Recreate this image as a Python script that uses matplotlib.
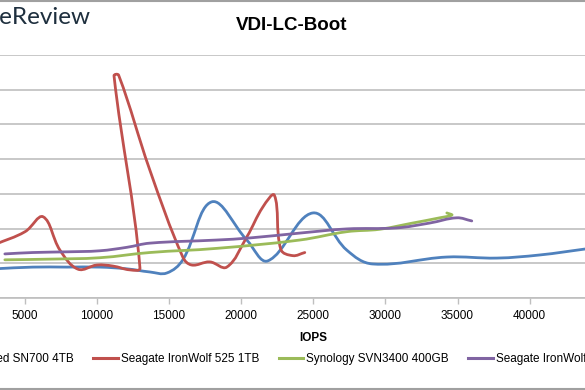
import numpy as np
import matplotlib.pyplot as plt
from matplotlib.path import Path
from matplotlib.patches import PathPatch
from matplotlib.lines import Line2D

plt.rcParams['font.family'] = ['Liberation Sans', 'DejaVu Sans']

# series (IOPS, latency in grid units)
names = ['WD Red SN700 4TB', 'Seagate IronWolf 525 1TB',
         'Synology SVN3400 400GB', 'Seagate IronWolf']
colors = ['#4F81BD', '#C0504D', '#9BBB59', '#8064A2']

wd_iops = [2900, 5550, 7900, 10200, 12070, 13660, 14840, 15950, 17960, 20390,
           21850, 24970, 27320, 29130, 34260, 37730, 40710, 43830, 44870]
wd_lat = [0.84, 0.89, 0.89, 0.89, 0.84, 0.75, 0.72, 1.10, 2.77, 1.67,
          1.07, 2.45, 1.38, 0.98, 1.18, 1.15, 1.24, 1.41, 1.47]

iw525_iops = [2910, 5010, 6260, 7430, 8680, 10000, 11110, 12290, 12980, 11180,
              11500, 13660, 15950, 16570, 17820, 19000, 20390, 21500, 22300,
              22750, 23580, 24410]
iw525_lat = [1.54, 1.91, 2.34, 1.38, 0.83, 0.95, 0.92, 0.81, 0.86, 6.40,
             6.42, 3.69, 1.18, 0.95, 1.04, 0.89, 1.76, 2.62, 2.96,
             1.40, 1.22, 1.31]

syn_iops = [3610, 6740, 10190, 13660, 18310, 24060, 27320, 29610, 31900,
            33770, 34610, 34260]
syn_lat = [1.10, 1.12, 1.16, 1.31, 1.43, 1.67, 1.91, 1.98, 2.16,
           2.31, 2.39, 2.45]

iw_iops = [3610, 5550, 7900, 10190, 12070, 13660, 18310, 20600, 24060,
           27320, 30790, 33080, 34950, 35990]
iw_lat = [1.27, 1.31, 1.33, 1.36, 1.46, 1.58, 1.67, 1.73, 1.87,
          1.99, 2.02, 2.16, 2.31, 2.22]

series = [(wd_iops, wd_lat), (iw525_iops, iw525_lat),
          (syn_iops, syn_lat), (iw_iops, iw_lat)]

x_ticks = [5000, 10000, 15000, 20000, 25000, 30000, 35000, 40000]


def smooth_path(ax, x, y, k=0.38):
    # Excel-like smoothed line: cubic Bezier pieces, tangents weighted by
    # neighbouring chord lengths (worked out in screen pixels)
    pts = ax.transData.transform(np.column_stack([x, y]))
    n = len(pts)
    seg = np.hypot(*np.diff(pts, axis=0).T)
    verts = [pts[0]]
    codes = [Path.MOVETO]
    for i in range(n - 1):
        p0 = pts[max(i - 1, 0)]
        p1 = pts[i]
        p2 = pts[i + 1]
        p3 = pts[min(i + 2, n - 1)]
        l01 = seg[i - 1] if i > 0 else 0.0
        l12 = seg[i]
        l23 = seg[i + 1] if i + 1 < n - 1 else 0.0
        c1 = p1 + (p2 - p0) * k * l12 / (l01 + l12)
        c2 = p2 - (p3 - p1) * k * l12 / (l12 + l23)
        verts += [c1, c2, p2]
        codes += [Path.CURVE4] * 3
    verts = ax.transData.inverted().transform(np.array(verts))
    return Path(verts, codes)


fig = plt.figure(figsize=(5.85, 3.9), dpi=100)
W, H = 585, 390

# the reference is a crop of a larger chart, so the plot area runs off both sides
ax = fig.add_axes([-47.2 / W, (H - 298) / H, 721 / W, 243 / H])
ax.set_xlim(0, 50000)
ax.set_ylim(0, 7)
ax.set_xticks(x_ticks)
ax.set_yticks(range(0, 8))
ax.set_yticklabels([])
ax.grid(axis='y', color='#BFBFBF', linewidth=1.2)
ax.set_axisbelow(True)
for side in ['left', 'top', 'right']:
    ax.spines[side].set_visible(False)
ax.spines['bottom'].set_color('#BFBFBF')
ax.spines['bottom'].set_linewidth(1.2)
ax.tick_params(axis='x', length=4, width=1, color='#BFBFBF', labelsize=8.5, pad=4.5)
ax.tick_params(axis='y', length=0)
ax.set_xlabel('IOPS', fontsize=8.5, fontweight='bold', labelpad=7)

for (xs, ys), c in zip(series, colors):
    ax.add_patch(PathPatch(smooth_path(ax, xs, ys), facecolor='none', edgecolor=c,
                           lw=2.0, capstyle='round', joinstyle='round'))

handles = [Line2D([], [], color=c, lw=2.2) for c in colors]
fig.legend(handles, names, loc='center left', bbox_to_anchor=(-63 / W, (H - 359) / H),
           ncol=4, frameon=False, fontsize=8.5, handlelength=2.1, handletextpad=0.25,
           columnspacing=1.65, borderpad=0, borderaxespad=0)

fig.text(292 / W, 1 - 26 / H, 'VDI-LC-Boot', ha='center', va='center',
         fontsize=13.5, fontweight='bold')
fig.text(90 / W, 1 - 17.5 / H, 'StorageReview', ha='right', va='center',
         fontsize=17.5, color='#1E2F3E', family='Lato')

# outer chart frame (top and bottom edges visible in the crop)
fig.add_artist(Line2D([0, 1], [1 - 1 / H, 1 - 1 / H], color='#A0A0A0', lw=1.5))
fig.add_artist(Line2D([0, 1], [1 / H, 1 / H], color='#A0A0A0', lw=1.5))

fig.savefig('out.png', dpi=100)
